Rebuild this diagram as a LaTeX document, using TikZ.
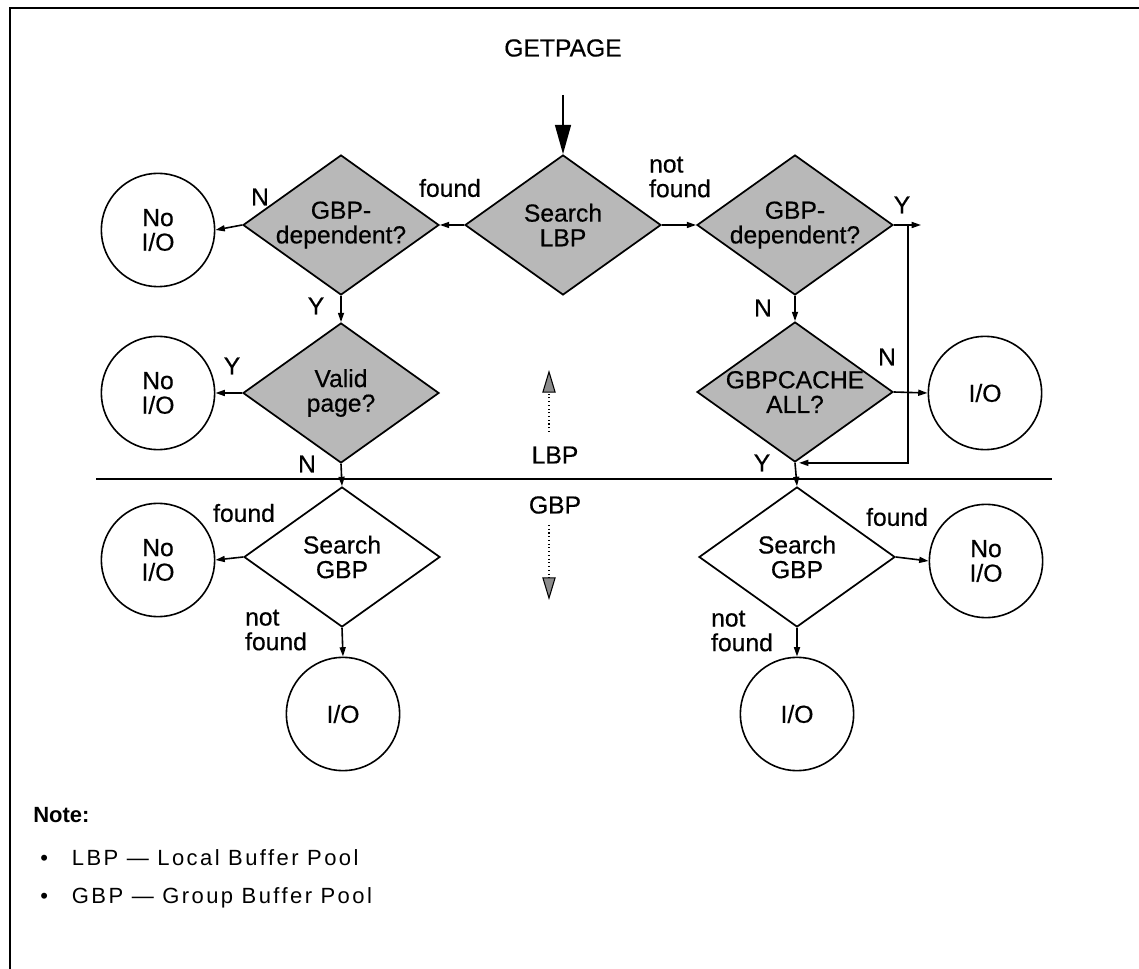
\documentclass[tikz,border=0pt]{standalone}
\usepackage{fontspec}
\setmainfont{Liberation Sans}
\newfontfamily\flowfont[FakeBold=0.5]{Liberation Sans}
\newfontfamily\legendfont[LetterSpace=11]{Liberation Sans}
\usetikzlibrary{shapes.geometric,arrows.meta}
\begin{document}
\begin{tikzpicture}[x=0.75pt,y=-0.75pt,
  every node/.style={font=\flowfont\fontsize{18.5}{18.5}\selectfont},
  dec/.style={diamond,draw,line width=1.3pt,fill=black!28,inner sep=0pt,
    minimum width=147pt,minimum height=105pt},
  decw/.style={dec,fill=white},
  term/.style={circle,draw,line width=1.2pt,inner sep=0pt,minimum size=85pt,align=center},
  txt/.style={align=center,inner sep=0pt},
  lbl/.style={inner sep=0pt,align=left},
  flow/.style={line width=1.2pt,-{Triangle[length=7pt,width=4.5pt]}},
  zone/.style={dotted,line width=0.8pt,-{Triangle[length=17pt,width=10pt,fill=black!45]}},
  legend/.style={anchor=west,inner sep=0pt,font=\legendfont\fontsize{16.5}{19.5}\selectfont},
]
\useasboundingbox (0,0) rectangle (1139,969);
% open frame: top and left edges only
\draw[line width=1.5pt] (1139,8) -- (10,8) -- (10,969);

% entry
\node[txt] (gp) at (563,48) {GETPAGE};
\coordinate (gpend) at (563,95);

% LBP decisions
\node[dec] (slbp) at (563,225) {};
\node[txt] at (slbp) {Search\\LBP};
\node[dec] (gdl) at (341,225) {};
\node[txt] at (gdl) {GBP-\\dependent?};
\node[dec] (vp) at (341,393) {};
\node[txt] at (vp) {Valid\\page?};
\node[dec] (gdr) at (795,225) {};
\node[txt] at (gdr) {GBP-\\dependent?};
\node[dec] (gbc) at (795,392) {};
\node[txt] at (gbc) {GBPCACHE\\ALL?};

% GBP decisions
\node[decw] (sgl) at (342,557) {};
\node[txt] at (sgl) {Search\\GBP};
\node[decw] (sgr) at (797,557) {};
\node[txt] at (sgr) {Search\\GBP};

% outcomes
\node[term] (n1) at (158,230) {No\\I/O};
\node[term] (n2) at (158,393) {No\\I/O};
\node[term] (n3) at (158,560) {No\\I/O};
\node[term] (io1) at (343,714) {I/O};
\node[term] (io2) at (985,393) {I/O};
\node[term] (n4) at (986,561) {No\\I/O};
\node[term] (io3) at (797,714) {I/O};

% LBP / GBP boundary
\coordinate (sepl) at (96,479);
\coordinate (sepr) at (1052,479);
\draw[line width=0.9pt] (sepl) -- (sepr);
\node[txt] (lbp) at (555,455) {LBP};
\node[txt] (gbp) at (555,505) {GBP};
\coordinate (upa) at (549,432);
\coordinate (upb) at (549,370);
\coordinate (dna) at (549,525);
\coordinate (dnb) at (549,600);
\draw[zone] (upa) -- (upb);
\draw[zone] (dna) -- (dnb);

% connectors
\draw[line width=1.2pt,-{Triangle[length=22pt,width=12pt]}] (gpend) -- (slbp.north);
\draw[flow] (slbp.west) -- (gdl.east);
\draw[flow] (slbp.east) -- (gdr.west);
\draw[flow] (gdl.west) -- (n1.east);
\draw[flow] (gdl.south) -- (vp.north);
\draw[flow] (vp.west) -- (n2.east);
\draw[flow] (vp.south) -- (sgl.north);
\draw[flow] (sgl.west) -- (n3.east);
\draw[flow] (sgl.south) -- (io1.north);
\draw[flow] (gdr.south) -- (gbc.north);
\draw[flow] (gbc.east) -- (io2.west);
\draw[flow] (gbc.south) -- (sgr.north);
\draw[flow] (sgr.east) -- (n4.west);
\draw[flow] (sgr.south) -- (io3.north);
\coordinate (yend) at (921,225);
\coordinate (yturn) at (908,225);
\draw[flow] (gdr.east) -- (yend);
\draw[flow] (yturn) |- ([xshift=3pt]gbc.south);

% branch labels
\node[lbl] at (450,188) {found};
\node[lbl] at (680,177) {not\\found};
\node[lbl] at (260,197) {N};
\node[lbl] at (316,306) {Y};
\node[lbl] at (232,366) {Y};
\node[lbl] at (307,464) {N};
\node[lbl] at (902,205) {Y};
\node[lbl] at (763,308) {N};
\node[lbl] at (887,357) {N};
\node[lbl] at (762,463) {Y};
\node[lbl] at (244,513) {found};
\node[lbl] at (276,630) {not\\found};
\node[lbl] at (897,517) {found};
\node[lbl] at (742,631) {not\\found};

% legend
\node[anchor=west,inner sep=0pt,font=\bfseries\fontsize{16.5}{19}\selectfont] (note) at (33,815) {Note:};
\node[legend] (l1) at (40,858) {•\hspace{18pt}LBP — Local Buffer Pool};
\node[legend] (l2) at (40,898) {•\hspace{18pt}GBP — Group Buffer Pool};
\end{tikzpicture}
\end{document}
